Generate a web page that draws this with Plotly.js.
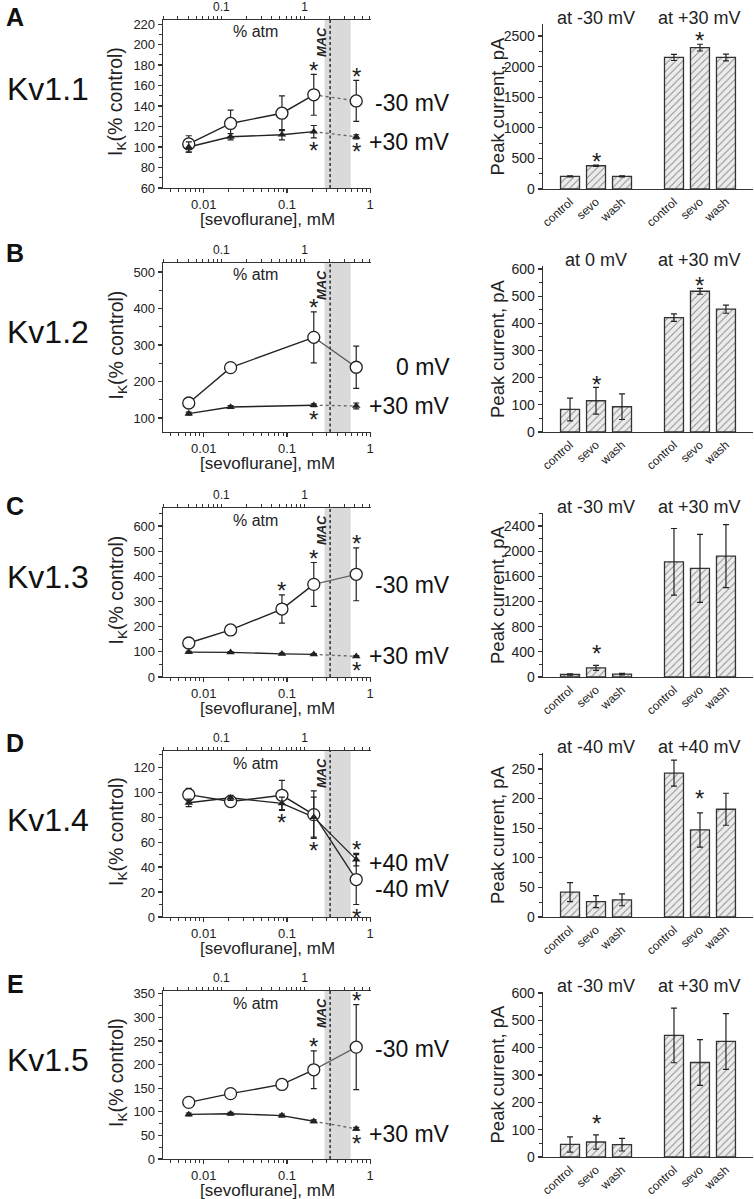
<!DOCTYPE html>
<html><head><meta charset="utf-8">
<script src="https://cdn.plot.ly/plotly-3.0.1.min.js"></script>
<style>html,body{margin:0;padding:0;background:#fff}</style>
</head><body>
<div id="chart" style="width:754px;height:1199px"></div>
<script>
// ================= DATA =================
const channels = ['Kv1.1', 'Kv1.2', 'Kv1.3', 'Kv1.4', 'Kv1.5'];
const panelLetters = ['A', 'B', 'C', 'D', 'E'];
const conc = [0.0066, 0.021, 0.087, 0.21, 0.68];        // [sevoflurane], mM
const mMperPctAtm = 0.163;                               // mM per % atm (top axis)
const macConc = 0.33;                                    // MAC, mM
const macBand = [0.283, 0.583];                          // shaded range, mM
const topTickLabels = ['0.1', '1'];
const bottomTickLabels = ['0.01', '0.1', '1'];

const lowVoltage  = ['-30 mV', '0 mV', '-30 mV', '-40 mV', '-30 mV'];
const highVoltage = ['+30 mV', '+30 mV', '+30 mV', '+40 mV', '+30 mV'];

// I_K (% control), open circles = low voltage, filled triangles = high voltage
const kv11_low = [103, 123, 133, 151, 145];   const kv11_lowErr = [8, 13, 17, 20, 20];
const kv11_high = [100, 110, 112, 115, 110];  const kv11_highErr = [5, 3, 5, 6, 2];
const kv12_low = [141, 238, null, 321, 239];  const kv12_lowErr = [10, 9, 0, 70, 58];
const kv12_high = [112, 130, null, 135, 133]; const kv12_highErr = [4, 4, 0, 4, 8];
const kv13_low = [135, 187, 270, 368, 408];   const kv13_lowErr = [10, 18, 56, 87, 105];
const kv13_high = [99, 98, 92, 90, 82];       const kv13_highErr = [3, 3, 3, 3, 3];
const kv14_low = [98, 92.5, 97.5, 82, 30];    const kv14_lowErr = [5, 3, 12, 19, 20];
const kv14_high = [91.5, 95.5, 91, 80, 46];   const kv14_highErr = [3, 2, 5, 16, 5];
const kv15_low = [120, 138.5, 158, 189, 237]; const kv15_lowErr = [5, 10, 5, 40, 90];
const kv15_high = [94.5, 96, 92, 80, 64];     const kv15_highErr = [3, 3, 3, 3, 3];

// significance stars (indices into conc)
const kv11_stars = {lowAbove: [3, 4], lowBelow: [], highAbove: [], highBelow: [3, 4]};
const kv12_stars = {lowAbove: [3], lowBelow: [], highAbove: [], highBelow: [3]};
const kv13_stars = {lowAbove: [2, 3, 4], lowBelow: [], highAbove: [], highBelow: [4]};
const kv14_stars = {lowAbove: [], lowBelow: [4], highAbove: [4], highBelow: [2, 3]};
const kv15_stars = {lowAbove: [3, 4], lowBelow: [], highAbove: [], highBelow: [4]};

// Peak current, pA
const barConditions = ['control', 'sevo', 'wash', 'control', 'sevo', 'wash'];
const kv11_bars = [205, 380, 205, 2150, 2310, 2150]; const kv11_barErr = [8, 12, 8, 50, 55, 55];
const kv12_bars = [83, 115, 93, 421, 518, 452];      const kv12_barErr = [42, 49, 47, 14, 11, 15];
const kv13_bars = [40, 145, 45, 1830, 1725, 1920];   const kv13_barErr = [12, 40, 12, 530, 540, 500];
const kv14_bars = [42, 26, 29, 243, 147, 182];       const kv14_barErr = [16, 10, 10, 22, 29, 27];
const kv15_bars = [46, 55, 45, 445, 346, 423];       const kv15_barErr = [28, 26, 23, 100, 84, 102];
const kv11_barStars = [1, 4]; const kv12_barStars = [1, 4]; const kv13_barStars = [1];
const kv14_barStars = [4];    const kv15_barStars = [1];

// ================= LAYOUT CONFIG =================
const W = 754, H = 1199;
const FONT = '"Liberation Sans", Arial, Helvetica, sans-serif';
const INK = '#222';
const barPos = [0, 1, 2, 4, 5, 6];
const groupCenters = [1, 5];

const panels = [
  {low: kv11_low, lowErr: kv11_lowErr, high: kv11_high, highErr: kv11_highErr, stars: kv11_stars,
   bars: kv11_bars, barErr: kv11_barErr, barStars: kv11_barStars,
   L: {t: 20, b: 188, range: [60, 224], dtick: 20, tick0: 0}, R: {t: 24, b: 189, range: [0, 2696], dtick: 500},
   letterY: 17, lowShift: -2, highShift: -5, lastLow: {dash: 'dot', color: '#666'}, lastHigh: {dash: 'dot', color: '#666'}, barStarGap: 4},
  {low: kv12_low, lowErr: kv12_lowErr, high: kv12_high, highErr: kv12_highErr, stars: kv12_stars,
   bars: kv12_bars, barErr: kv12_barErr, barStars: kv12_barStars,
   L: {t: 263, b: 432, range: [61.6, 524.7], dtick: 100, tick0: 0}, R: {t: 266, b: 432, range: [0, 611], dtick: 100},
   letterY: 253, lowShift: 0, highShift: 0, lastLow: {dash: 'solid', color: '#555'}, lastHigh: {dash: 'dot', color: '#666'}, barStarGap: 3},
  {low: kv13_low, lowErr: kv13_lowErr, high: kv13_high, highErr: kv13_highErr, stars: kv13_stars,
   bars: kv13_bars, barErr: kv13_barErr, barStars: kv13_barStars,
   L: {t: 508, b: 677, range: [0, 671.5], dtick: 100, tick0: 0}, R: {t: 513, b: 677, range: [0, 2606], dtick: 400},
   letterY: 506, lowShift: -11, highShift: 0, lastLow: {dash: 'solid', color: '#666'}, lastHigh: {dash: 'dot', color: '#666'}, barStarGap: 12},
  {low: kv14_low, lowErr: kv14_lowErr, high: kv14_high, highErr: kv14_highErr, stars: kv14_stars,
   bars: kv14_bars, barErr: kv14_barErr, barStars: kv14_barStars,
   L: {t: 751, b: 917, range: [0, 133], dtick: 20, tick0: 0}, R: {t: 753, b: 917, range: [0, 277], dtick: 50},
   letterY: 743, lowShift: -9, highShift: -3, lastLow: {dash: 'solid', color: '#222'}, lastHigh: {dash: 'solid', color: '#222'}, barStarGap: 14},
  {low: kv15_low, lowErr: kv15_lowErr, high: kv15_high, highErr: kv15_highErr, stars: kv15_stars,
   bars: kv15_bars, barErr: kv15_barErr, barStars: kv15_barStars,
   L: {t: 991, b: 1159, range: [0, 356], dtick: 50, tick0: 0}, R: {t: 992, b: 1157, range: [0, 604], dtick: 100},
   letterY: 984, lowShift: -2, highShift: -5, lastLow: {dash: 'solid', color: '#666'}, lastHigh: {dash: 'dot', color: '#666'}, barStarGap: 11}
];
const groupTitles = [
  ['at -30 mV', 'at +30 mV'], ['at 0 mV', 'at +30 mV'], ['at -30 mV', 'at +30 mV'],
  ['at -40 mV', 'at +40 mV'], ['at -30 mV', 'at +30 mV']
];

const LX = [163, 371], RX = [543, 753];
const xp = p => p / W;
const yp = p => 1 - p / H;
const log10 = Math.log10;

function logMinor(lo, hi) {
  const v = [];
  for (let d = Math.floor(log10(lo)); d <= Math.ceil(log10(hi)); d++) {
    for (let m = 2; m <= 9; m++) { const t = m * Math.pow(10, d); if (t >= lo && t <= hi) v.push(+t.toPrecision(3)); }
  }
  return v;
}

const axisCommon = {
  color: INK, showline: true, linecolor: '#333', linewidth: 1.3, ticks: 'outside', ticklen: 4, tickwidth: 1.2,
  tickcolor: '#333', showgrid: false, zeroline: false, tickfont: {family: FONT, size: 13, color: INK},
  automargin: false, fixedrange: true
};

const layout = {
  width: W, height: H, margin: {l: 0, r: 0, t: 0, b: 0}, paper_bgcolor: '#fff', plot_bgcolor: 'rgba(0,0,0,0)',
  showlegend: false, font: {family: FONT, size: 13, color: INK}, annotations: [], bargap: 0
};
const traces = [];

const xLogRange = [-2.49, 0.01];
const pctRange = [xLogRange[0] - log10(mMperPctAtm), xLogRange[1] - log10(mMperPctAtm)];

function ann(o) {
  return Object.assign({showarrow: false, xanchor: 'center', yanchor: 'middle',
    font: {family: FONT, size: 13, color: INK}}, o);
}

panels.forEach((p, r) => {
  const xi = 3 * r + 1, yi = 2 * r + 1;
  const sfx = n => (n === 1 ? '' : String(n));
  const xb = 'x' + sfx(xi), xt = 'x' + sfx(xi + 1), xr = 'x' + sfx(xi + 2);
  const yl = 'y' + sfx(yi), yr = 'y' + sfx(yi + 1);
  const L = p.L, R = p.R;

  // --- left axes ---
  layout['xaxis' + sfx(xi)] = Object.assign({}, axisCommon, {
    type: 'log', domain: [xp(LX[0]), xp(LX[1])], anchor: yl, range: xLogRange,
    tickmode: 'array', tickvals: [0.01, 0.1, 1], ticktext: bottomTickLabels,
    minor: {tickmode: 'array', tickvals: logMinor(0.003, 1), ticks: 'outside', ticklen: 2.5, tickwidth: 1, tickcolor: '#333'}
  });
  layout['xaxis' + sfx(xi + 1)] = Object.assign({}, axisCommon, {
    type: 'log', overlaying: xb, side: 'top', anchor: yl, range: pctRange, ticklen: 3,
    tickfont: {family: FONT, size: 12, color: '#1a1a1a'},
    tickmode: 'array', tickvals: [0.1, 1], ticktext: topTickLabels,
    minor: {tickmode: 'array', tickvals: logMinor(0.02, 6.1), ticks: 'outside', ticklen: 2.5, tickwidth: 1, tickcolor: '#333'}
  });
  layout['yaxis' + sfx(yi)] = Object.assign({}, axisCommon, {
    domain: [yp(L.b), yp(L.t)], anchor: xb, range: L.range, dtick: L.dtick, tick0: L.tick0,
    minor: {dtick: L.dtick / 2, ticks: 'outside', ticklen: 2.5, tickwidth: 1, tickcolor: '#333'}
  });
  // --- right axes ---
  layout['xaxis' + sfx(xi + 2)] = Object.assign({}, axisCommon, {
    domain: [xp(RX[0]), xp(RX[1])], anchor: yr, range: [-1.04, 7.04],
    tickmode: 'array', tickvals: barPos, ticktext: barConditions, tickangle: -42, ticks: '',
    tickfont: {family: FONT, size: 12, color: INK}
  });
  layout['yaxis' + sfx(yi + 1)] = Object.assign({}, axisCommon, {
    domain: [yp(R.b), yp(R.t)], anchor: xr, range: R.range, dtick: R.dtick, tick0: 0,
    tickfont: {family: FONT, size: 14, color: INK},
    minor: {dtick: R.dtick / 2, ticks: 'outside', ticklen: 2.5, tickwidth: 1, tickcolor: '#333'}
  });

  // MAC band + dashed MAC line (as traces on the same axes)
  traces.push({type: 'scatter', mode: 'lines', xaxis: xb, yaxis: yl, hoverinfo: 'skip',
    x: [macBand[0], macBand[1], macBand[1], macBand[0], macBand[0]],
    y: [L.range[0], L.range[0], L.range[1], L.range[1], L.range[0]],
    fill: 'toself', fillcolor: '#dadada', line: {width: 0, color: 'rgba(0,0,0,0)'}});
  traces.push({type: 'scatter', mode: 'lines', xaxis: xb, yaxis: yl, hoverinfo: 'skip',
    x: [macConc, macConc], y: [L.range[0], L.range[1]], line: {color: INK, width: 1.4, dash: '3px,2.5px'}});

  // dummy trace to keep the top axis
  traces.push({type: 'scatter', x: [], y: [], xaxis: xt, yaxis: yl, hoverinfo: 'skip'});

  // lines (first 4 points solid, last segment styled)
  const seg = (arr, a, b) => arr.map((v, i) => (i >= a && i <= b ? v : null));
  [['low', p.lastLow], ['high', p.lastHigh]].forEach(([k, st]) => {
    traces.push({type: 'scatter', mode: 'lines', x: conc, y: seg(p[k], 0, 3), connectgaps: true,
      line: {color: INK, width: 1.4}, xaxis: xb, yaxis: yl, hoverinfo: 'skip'});
    traces.push({type: 'scatter', mode: 'lines', x: conc, y: seg(p[k], 3, 4),
      line: {color: st.color, width: 1.3, dash: st.dash}, xaxis: xb, yaxis: yl, hoverinfo: 'skip'});
  });
  // markers
  traces.push({type: 'scatter', mode: 'markers', x: conc, y: p.low, xaxis: xb, yaxis: yl,
    marker: {symbol: 'circle', size: 12, color: '#fff', line: {color: INK, width: 1.3}},
    error_y: {type: 'data', array: p.lowErr, visible: true, color: INK, thickness: 1.2, width: 3}});
  traces.push({type: 'scatter', mode: 'markers', x: conc, y: p.high, xaxis: xb, yaxis: yl,
    marker: {symbol: 'triangle-up', size: 7.5, color: INK, line: {width: 0}},
    error_y: {type: 'data', array: p.highErr, visible: true, color: INK, thickness: 1.2, width: 3}});

  // stars on dose-response
  const star = (x, y, above) => ann({xref: xb, yref: yl, x: log10(x), y: y, text: '*',
    yshift: above ? 4 : -13, font: {family: FONT, size: 24, color: INK}});
  p.stars.lowAbove.forEach(i => layout.annotations.push(star(conc[i], p.low[i] + p.lowErr[i], true)));
  p.stars.lowBelow.forEach(i => layout.annotations.push(star(conc[i], p.low[i] - p.lowErr[i], false)));
  p.stars.highAbove.forEach(i => layout.annotations.push(star(conc[i], p.high[i] + p.highErr[i], true)));
  p.stars.highBelow.forEach(i => layout.annotations.push(star(conc[i], p.high[i] - p.highErr[i], false)));

  // bars
  traces.push({type: 'bar', x: barPos, y: p.bars, xaxis: xr, yaxis: yr, width: 0.73,
    marker: {color: '#ececec', line: {color: '#333', width: 1.3},
      pattern: {shape: '/', fgcolor: '#888', bgcolor: '#ececec', size: 5, solidity: 0.18}},
    error_y: {type: 'data', array: p.barErr, visible: true, color: INK, thickness: 1.2, width: 3}});
  p.barStars.forEach(i => layout.annotations.push(ann({xref: xr, yref: yr, x: barPos[i], y: p.bars[i] + p.barErr[i],
    text: '*', yshift: p.barStarGap, font: {family: FONT, size: 24, color: INK}})));
  groupTitles[r].forEach((t, g) => layout.annotations.push(ann({xref: xr, yref: yr + ' domain', x: groupCenters[g], y: 1,
    yshift: 6, text: t, font: {family: FONT, size: 18, color: INK}})));

  // text
  const midL = (L.t + L.b) / 2, midR = (R.t + R.b) / 2;
  layout.annotations.push(ann({xref: 'paper', yref: 'paper', x: xp(15), y: yp(p.letterY), text: '<b>' + panelLetters[r] + '</b>',
    font: {family: FONT, size: 25, color: '#111'}}));
  layout.annotations.push(ann({xref: 'paper', yref: 'paper', x: xp(48), y: yp(L.t + 69), text: channels[r],
    font: {family: FONT, size: 32, color: '#111'}}));
  layout.annotations.push(ann({xref: 'paper', yref: 'paper', x: xp(117), y: yp(midL - 2), text: 'I<sub>K</sub>(% control)',
    textangle: -90, font: {family: FONT, size: 19.5, color: INK}}));
  layout.annotations.push(ann({xref: 'paper', yref: 'paper', x: xp(267), y: yp(L.b + 31), text: '[sevoflurane], mM',
    font: {family: FONT, size: 17, color: INK}}));
  layout.annotations.push(ann({xref: 'paper', yref: 'paper', x: xp(255), y: yp(L.t + 12), text: '% atm',
    font: {family: FONT, size: 16, color: INK}}));
  layout.annotations.push(ann({xref: xb, yref: yl + ' domain', x: log10(macConc), xshift: -9, y: 1 - 22 / (L.b - L.t),
    text: '<b><i>MAC</i></b>', textangle: -90, font: {family: FONT, size: 13, color: INK}}));
  layout.annotations.push(ann({xref: 'paper', yref: 'paper', x: xp(497), y: yp(midR), text: 'Peak current, pA',
    textangle: -90, font: {family: FONT, size: 18.5, color: INK}}));
  // voltage labels at last points
  layout.annotations.push(ann({xref: 'paper', yref: yl, x: xp(452), xanchor: 'right', y: p.low[4], yshift: p.lowShift,
    text: lowVoltage[r], font: {family: FONT, size: 23, color: '#111'}}));
  layout.annotations.push(ann({xref: 'paper', yref: yl, x: xp(452), xanchor: 'right', y: p.high[4], yshift: p.highShift,
    text: highVoltage[r], font: {family: FONT, size: 23, color: '#111'}}));
});

Plotly.newPlot('chart', traces, layout, {staticPlot: true, displayModeBar: false});
</script>
</body></html>
